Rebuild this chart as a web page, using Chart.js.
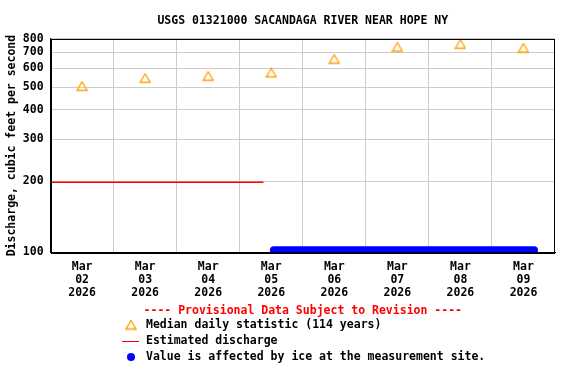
<!DOCTYPE html>
<html>
<head>
<meta charset="utf-8">
<script src="https://cdn.jsdelivr.net/npm/chart.js@4.4.1/dist/chart.umd.min.js"></script>
<style>
  html, body { margin: 0; padding: 0; background: #fff; }
  #wrap { width: 576px; height: 384px; }
</style>
</head>
<body>
<div id="wrap"><canvas id="chart" width="576" height="384"></canvas></div>
<script>
const TITLE = "USGS 01321000 SACANDAGA RIVER NEAR HOPE NY";
const Y_TITLE = "Discharge, cubic feet per second";
const NOTE = "---- Provisional Data Subject to Revision ----";

// x values are hours since 2026-03-02 00:00
const dayLabelHours = [12, 36, 60, 84, 108, 132, 156, 180];
const dayLabels = [
  ["Mar", "02", "2026"], ["Mar", "03", "2026"], ["Mar", "04", "2026"], ["Mar", "05", "2026"],
  ["Mar", "06", "2026"], ["Mar", "07", "2026"], ["Mar", "08", "2026"], ["Mar", "09", "2026"],
];
const dayBreakHours = [24, 48, 72, 96, 120, 144, 168];
const yTicks = [100, 200, 300, 400, 500, 600, 700, 800];

const medianHours = [12, 36, 60, 84, 108, 132, 156, 180];
const medianValues = [504, 545, 556, 574, 656, 738, 759, 731];
const estimatedHours = [0, 81];
const estimatedValues = [198, 198];
const iceHours = [85, 184];
const iceValues = [102, 102];

const FONT = { family: "'DejaVu Sans Mono', monospace", weight: "bold", size: 11.5 };
Chart.defaults.font = { ...FONT, lineHeight: 1.15 };
Chart.defaults.color = "#000";

// hollow orange triangle used as the median marker
const tri = document.createElement("canvas");
tri.width = 12;
tri.height = 11;
const tctx = tri.getContext("2d");
tctx.strokeStyle = "#ffa000";
tctx.lineWidth = 1.3;
tctx.beginPath();
tctx.moveTo(6, 1);
tctx.lineTo(11, 9.5);
tctx.lineTo(1, 9.5);
tctx.closePath();
tctx.stroke();

const toPoints = (xs, ys) => xs.map((x, i) => ({ x, y: ys[i] }));

const frameAndLegend = {
  id: "frameAndLegend",
  afterDatasetsDraw(chart) {
    const { ctx, chartArea: a } = chart;
    ctx.save();
    ctx.strokeStyle = "#000";
    ctx.lineWidth = 1;
    ctx.strokeRect(Math.round(a.left) + 0.5, Math.round(a.top) + 0.5,
      Math.round(a.right - a.left) - 1, Math.round(a.bottom - a.top));
    ctx.restore();
  },
  afterDraw(chart) {
    const { ctx, chartArea: a } = chart;
    const ds = chart.data.datasets;
    ctx.save();
    ctx.font = `bold ${FONT.size}px ${FONT.family}`;
    ctx.textBaseline = "middle";

    ctx.fillStyle = "#ff0000";
    ctx.textAlign = "center";
    ctx.fillText(NOTE, (a.left + a.right) / 2, 311);

    ctx.textAlign = "left";
    const rows = [325, 341, 357];
    const mx = 131, tx = 146;

    ctx.drawImage(tri, mx - 6, rows[0] - 5.5);
    ctx.fillStyle = "#000";
    ctx.fillText(ds[0].label, tx, rows[0]);

    ctx.fillStyle = "#ff0000";
    ctx.fillRect(122, rows[1], 17, 1);
    ctx.fillStyle = "#000";
    ctx.fillText(ds[1].label, tx, rows[1]);

    ctx.fillStyle = "#0000ff";
    ctx.beginPath();
    ctx.arc(mx, rows[2], 4, 0, Math.PI * 2);
    ctx.fill();
    ctx.fillStyle = "#000";
    ctx.fillText(ds[2].label, tx, rows[2]);
    ctx.restore();
  },
};

new Chart(document.getElementById("chart"), {
  type: "line",
  data: {
    datasets: [
      {
        label: "Median daily statistic (114 years)",
        data: toPoints(medianHours, medianValues),
        showLine: false,
        pointStyle: tri,
        pointRadius: 6,
      },
      {
        label: "Estimated discharge",
        data: toPoints(estimatedHours, estimatedValues),
        borderColor: "#ff0000",
        borderWidth: 1.4,
        pointRadius: 0,
      },
      {
        label: "Value is affected by ice at the measurement site.",
        data: toPoints(iceHours, iceValues),
        borderColor: "#0000ff",
        borderWidth: 8,
        borderCapStyle: "round",
        pointRadius: 0,
      },
    ],
  },
  options: {
    responsive: false,
    animation: false,
    events: [],
    layout: { padding: { left: 3, right: 21, top: 0, bottom: 76 } },
    plugins: {
      legend: { display: false },
      tooltip: { enabled: false },
      title: {
        display: true,
        text: TITLE,
        fullSize: false,
        color: "#000",
        font: { ...FONT, lineHeight: 1.2 },
        padding: { top: 14, bottom: 11 },
      },
    },
    scales: {
      x: {
        type: "linear",
        min: 0,
        max: 192,
        afterBuildTicks: (axis) => {
          axis.ticks = [...dayLabelHours, ...dayBreakHours]
            .sort((p, q) => p - q)
            .map((value) => ({ value }));
        },
        grid: {
          color: (c) => (dayBreakHours.includes(c.tick && c.tick.value) ? "#cccccc" : "rgba(0,0,0,0)"),
          drawTicks: false,
        },
        border: { color: "#000" },
        ticks: {
          autoSkip: false,
          maxRotation: 0,
          padding: 8,
          callback: (v) => {
            const i = dayLabelHours.indexOf(v);
            return i >= 0 ? dayLabels[i] : "";
          },
        },
      },
      y: {
        type: "logarithmic",
        min: 100,
        max: 800,
        afterBuildTicks: (axis) => {
          axis.ticks = yTicks.map((value) => ({ value }));
        },
        grid: { color: "#cccccc", drawTicks: false },
        border: { color: "#000" },
        ticks: { autoSkip: false, padding: 7, callback: (v) => String(v) },
        title: {
          display: true,
          text: Y_TITLE,
          font: { ...FONT, lineHeight: 1.2 },
          padding: { top: 2, bottom: -3 },
        },
      },
    },
  },
  plugins: [frameAndLegend],
});
</script>
</body>
</html>
